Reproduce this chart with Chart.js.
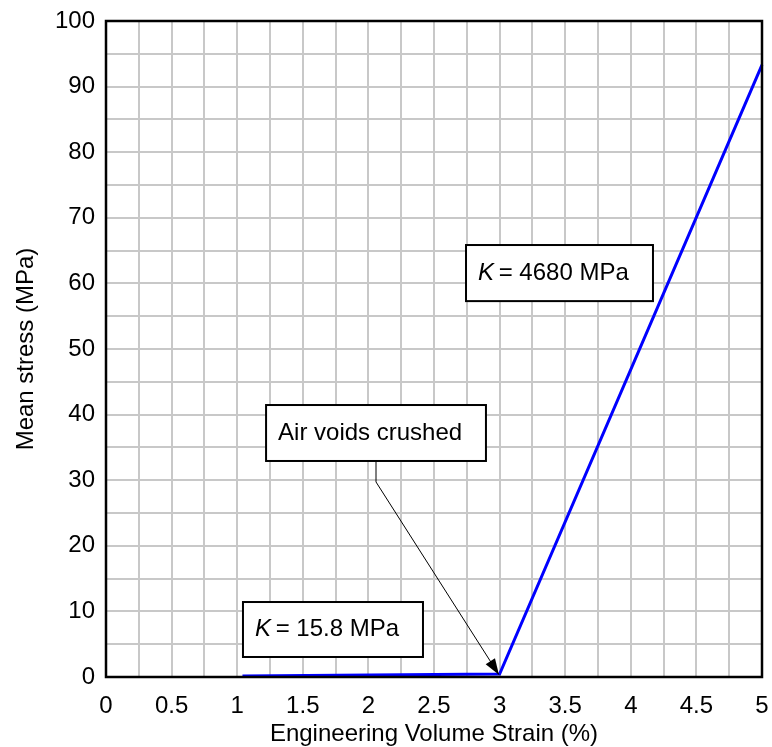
<!DOCTYPE html>
<html>
<head>
<meta charset="utf-8">
<script src="https://cdn.jsdelivr.net/npm/chart.js@4/dist/chart.umd.min.js"></script>
<style>
  html, body { margin: 0; padding: 0; background: #ffffff; }
  #wrap { width: 772px; height: 747px; position: relative; }
</style>
</head>
<body>
<div id="wrap"><canvas id="c" width="772" height="747"></canvas></div>
<script>
// ---- data ----
const strainPct = [1.04, 3.0, 5.0];          // Engineering volume strain (%)
const meanStress = [0.15, 0.46, 93.3];       // Mean stress (MPa)
const xTickValues = [0, 0.5, 1, 1.5, 2, 2.5, 3, 3.5, 4, 4.5, 5];
const xTickLabels = ['0', '0.5', '1', '1.5', '2', '2.5', '3', '3.5', '4', '4.5', '5'];
const yTickValues = [0, 10, 20, 30, 40, 50, 60, 70, 80, 90, 100];
const yTickLabels = ['0', '10', '20', '30', '40', '50', '60', '70', '80', '90', '100'];
const labelTexts = [
  { italic: 'K', rest: ' = 4680 MPa' },
  { italic: '', rest: 'Air voids crushed' },
  { italic: 'K', rest: ' = 15.8 MPa' }
];

// annotation placement (data space)
const labelBoxes = [
  { x0: 2.744, x1: 4.169, y0: 57.3, y1: 65.85 },
  { x0: 1.22, x1: 2.896, y0: 32.93, y1: 41.46 },
  { x0: 1.044, x1: 2.416, y0: 3.05, y1: 11.43 }
];
const arrowPath = [ [2.058, 32.93], [2.058, 29.73], [2.995, 0.35] ];

const FONT = '"Liberation Sans", Arial, Helvetica, sans-serif';
const FS = 24;

const annotPlugin = {
  id: 'annot',
  afterDraw(chart) {
    const ctx = chart.ctx;
    const xs = chart.scales.x, ys = chart.scales.y;
    const a = chart.chartArea;
    ctx.save();
    // frame
    ctx.strokeStyle = '#000';
    ctx.lineWidth = 2.5;
    ctx.strokeRect(a.left, a.top, a.right - a.left, a.bottom - a.top);

    // arrow
    const pts = arrowPath.map(p => [xs.getPixelForValue(p[0]), ys.getPixelForValue(p[1])]);
    ctx.lineWidth = 1;
    ctx.strokeStyle = '#000';
    ctx.beginPath();
    ctx.moveTo(pts[0][0], pts[0][1]);
    for (let i = 1; i < pts.length; i++) ctx.lineTo(pts[i][0], pts[i][1]);
    ctx.stroke();
    const tip = pts[pts.length - 1], prev = pts[pts.length - 2];
    const ang = Math.atan2(tip[1] - prev[1], tip[0] - prev[0]);
    const L = 16, W = 5.5;
    ctx.beginPath();
    ctx.moveTo(tip[0], tip[1]);
    ctx.lineTo(tip[0] - L * Math.cos(ang) + W * Math.sin(ang), tip[1] - L * Math.sin(ang) - W * Math.cos(ang));
    ctx.lineTo(tip[0] - L * Math.cos(ang) - W * Math.sin(ang), tip[1] - L * Math.sin(ang) + W * Math.cos(ang));
    ctx.closePath();
    ctx.fillStyle = '#000';
    ctx.fill();

    // boxes
    labelBoxes.forEach((b, i) => {
      const x0 = xs.getPixelForValue(b.x0), x1 = xs.getPixelForValue(b.x1);
      const y0 = ys.getPixelForValue(b.y1), y1 = ys.getPixelForValue(b.y0);
      ctx.fillStyle = '#fff';
      ctx.fillRect(x0, y0, x1 - x0, y1 - y0);
      ctx.lineWidth = 2;
      ctx.strokeStyle = '#000';
      ctx.strokeRect(x0, y0, x1 - x0, y1 - y0);
      const t = labelTexts[i];
      let tx = x0 + 12;
      const ty = (y0 + y1) / 2;
      ctx.fillStyle = '#000';
      ctx.textBaseline = 'middle';
      ctx.textAlign = 'left';
      if (t.italic) {
        ctx.font = 'italic ' + FS + 'px ' + FONT;
        ctx.fillText(t.italic, tx, ty);
        tx += ctx.measureText(t.italic).width - 2;
      }
      ctx.font = FS + 'px ' + FONT;
      ctx.fillText(t.rest, tx, ty);
    });
    ctx.restore();
  }
};

new Chart(document.getElementById('c'), {
  type: 'line',
  data: {
    datasets: [{
      data: strainPct.map((v, i) => ({ x: v, y: meanStress[i] })),
      borderColor: '#0000ff',
      borderWidth: 3,
      pointRadius: 0,
      tension: 0,
      fill: false,
      clip: false
    }]
  },
  options: {
    responsive: false,
    animation: false,
    devicePixelRatio: 1,
    layout: { padding: { top: 21, right: 10, left: 0, bottom: 0 } },
    plugins: { legend: { display: false }, tooltip: { enabled: false } },
    scales: {
      x: {
        type: 'linear', min: 0, max: 5,
        afterFit(s) { s.height = 70; s.paddingLeft = 0; s.paddingRight = 0; },
        afterBuildTicks(s) {
          const t = [];
          for (let i = 0; i <= 20; i++) t.push({ value: i * 0.25 });
          s.ticks = t;
        },
        ticks: {
          autoSkip: false, maxRotation: 0, padding: 15,
          color: '#000', font: { family: FONT, size: FS },
          callback(v) { const k = xTickValues.indexOf(v); return k >= 0 ? xTickLabels[k] : ''; }
        },
        grid: { color: '#c8c8c8', lineWidth: 2, drawTicks: false },
        border: { display: false },
        title: { display: true, text: 'Engineering Volume Strain (%)', color: '#000',
                 font: { family: FONT, size: FS }, padding: { top: 0, bottom: -2 } }
      },
      y: {
        type: 'linear', min: 0, max: 100,
        afterFit(s) { s.width = 106; s.paddingTop = 0; s.paddingBottom = 0; },
        afterBuildTicks(s) {
          const t = [];
          for (let i = 0; i <= 20; i++) t.push({ value: i * 5 });
          s.ticks = t;
        },
        ticks: {
          autoSkip: false, padding: 11,
          color: '#000', font: { family: FONT, size: FS },
          callback(v) { const k = yTickValues.indexOf(v); return k >= 0 ? yTickLabels[k] : ''; }
        },
        grid: { color: '#c8c8c8', lineWidth: 2, drawTicks: false },
        border: { display: false },
        title: { display: true, text: 'Mean stress (MPa)', color: '#000',
                 font: { family: FONT, size: FS }, padding: { top: 12, bottom: 0 } }
      }
    }
  },
  plugins: [annotPlugin]
});
</script>
</body>
</html>
